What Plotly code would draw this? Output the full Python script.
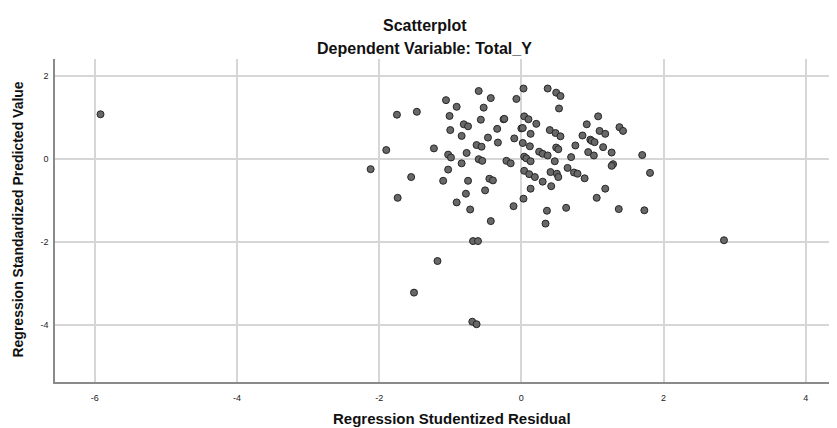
import plotly.graph_objects as go

# Regression Studentized Residual (x) and Regression Standardized Predicted Value (y)
resid = [-5.92, -2.12, -1.90, -1.75, -1.74, -1.55, -1.51, -1.47, -1.23, -1.18,
         -1.10, -1.06, -1.03, -1.03, -1.01, -1.00, -0.99, -0.91, -0.91, -0.84,
         -0.84, -0.81, -0.78, -0.77, -0.75, -0.75, -0.72, -0.69, -0.68, -0.63,
         -0.63, -0.61, -0.60, -0.60, -0.57, -0.56, -0.55, -0.53, -0.51, -0.47,
         -0.45, -0.43, -0.43, -0.40, -0.34, -0.33, -0.25, -0.21, -0.15, -0.11,
         -0.10, -0.07, 0.00, 0.02, 0.03, 0.03, 0.04, 0.04, 0.04, 0.07,
         0.10, 0.11, 0.12, 0.13, 0.13, 0.13, 0.19, 0.21, 0.25, 0.30,
         0.30, 0.34, 0.36, 0.37, 0.37, 0.40, 0.41, 0.42, 0.47, 0.48,
         0.49, 0.49, 0.50, 0.52, 0.53, 0.55, 0.55, 0.63, 0.65, 0.70,
         0.74, 0.76, 0.79, 0.86, 0.89, 0.92, 0.94, 0.97, 0.99, 1.02,
         1.03, 1.06, 1.08, 1.10, 1.15, 1.18, 1.18, 1.27, 1.29, 1.27,
         1.37, 1.38, 1.43, 1.70, 1.73, 1.81, 2.85, -0.24, 0.52, 0.02]
predicted = [1.07, -0.25, 0.21, 1.06, -0.94, -0.44, -3.22, 1.13, 0.25, -2.46,
             -0.53, 1.41, 0.10, -0.26, 1.03, 0.69, 0.03, 1.25, -1.05, 0.55,
             -0.11, 0.83, -0.84, 0.14, 0.78, -0.53, -1.22, -3.92, -1.98, 0.33,
             -3.98, -1.98, 1.63, -0.01, 0.94, 0.29, -0.05, 1.23, -0.76, 0.51,
             -0.48, 1.46, -1.50, -0.52, 0.72, 0.39, 0.95, -0.05, -0.11, -1.14,
             0.49, 1.44, 0.73, 0.38, -0.96, 1.69, 1.02, -0.29, 0.05, 0.01,
             0.95, -0.37, 0.30, -0.72, 0.60, -0.06, -0.44, 0.84, 0.17, 0.12,
             -0.55, -1.56, -1.25, 1.69, 0.08, 0.69, -0.32, -0.66, -0.06, 0.62,
             0.27, 1.59, -0.36, 0.23, 1.21, 1.51, 0.54, -1.18, -0.22, 0.04,
             -0.33, 0.32, -0.36, 0.56, -0.47, 0.83, 0.16, 0.46, 0.43, 0.08,
             0.40, -0.94, 1.02, 0.67, 0.28, 0.60, -0.72, 0.15, -0.13, -0.17,
             -1.21, 0.76, 0.67, 0.09, -1.24, -0.34, -1.96, 0.96, -0.44, 0.74]

x_ticks = [-6, -4, -2, 0, 2, 4]
y_ticks = [-4, -2, 0, 2]

FONT = "Liberation Sans, Arial, sans-serif"

fig = go.Figure()
fig.add_trace(go.Scatter(
    x=resid, y=predicted, mode="markers",
    marker=dict(size=7, color="#686868", line=dict(color="#262626", width=1)),
    showlegend=False, hoverinfo="x+y",
))

axis_common = dict(
    showgrid=True, gridcolor="#d6d6d6", gridwidth=1.5,
    zeroline=False, showline=True, linecolor="#8a8a8a", linewidth=1.5,
    ticks="", tickfont=dict(family=FONT, size=9, color="#222222"),
    mirror=False,
)

# page has an 8px body margin, so the figure is sized/offset to compensate
fig.update_layout(
    width=829, height=420,
    margin=dict(l=47, r=0, t=51, b=46),
    paper_bgcolor="white", plot_bgcolor="white",
    xaxis=dict(range=[-6.56, 4.44], tickvals=x_ticks, ticktext=[str(v) for v in x_ticks],
               ticklabelstandoff=6, **axis_common),
    yaxis=dict(range=[-5.37, 2.40], tickvals=y_ticks, ticktext=[str(v) for v in y_ticks],
               ticklabelstandoff=3, **axis_common),
    annotations=[
        dict(text="<b>Scatterplot</b>", xref="paper", yref="paper", x=0.473, y=1.105,
             xanchor="center", yanchor="middle", showarrow=False,
             font=dict(family=FONT, size=16, color="#111111")),
        dict(text="<b>Dependent Variable: Total_Y</b>", xref="paper", yref="paper", x=0.473, y=1.031,
             xanchor="center", yanchor="middle", showarrow=False,
             font=dict(family=FONT, size=16, color="#111111")),
        dict(text="<b>Regression Studentized Residual</b>", xref="paper", yref="paper", x=0.508, y=-0.113,
             xanchor="center", yanchor="middle", showarrow=False,
             font=dict(family=FONT, size=15, color="#111111")),
        dict(text="<b>Regression Standardized Predicted Value</b>", xref="paper", yref="paper",
             x=-0.0473, y=0.503, textangle=-90,
             xanchor="center", yanchor="middle", showarrow=False,
             font=dict(family=FONT, size=14, color="#111111")),
    ],
)

fig.write_html("out.html")
